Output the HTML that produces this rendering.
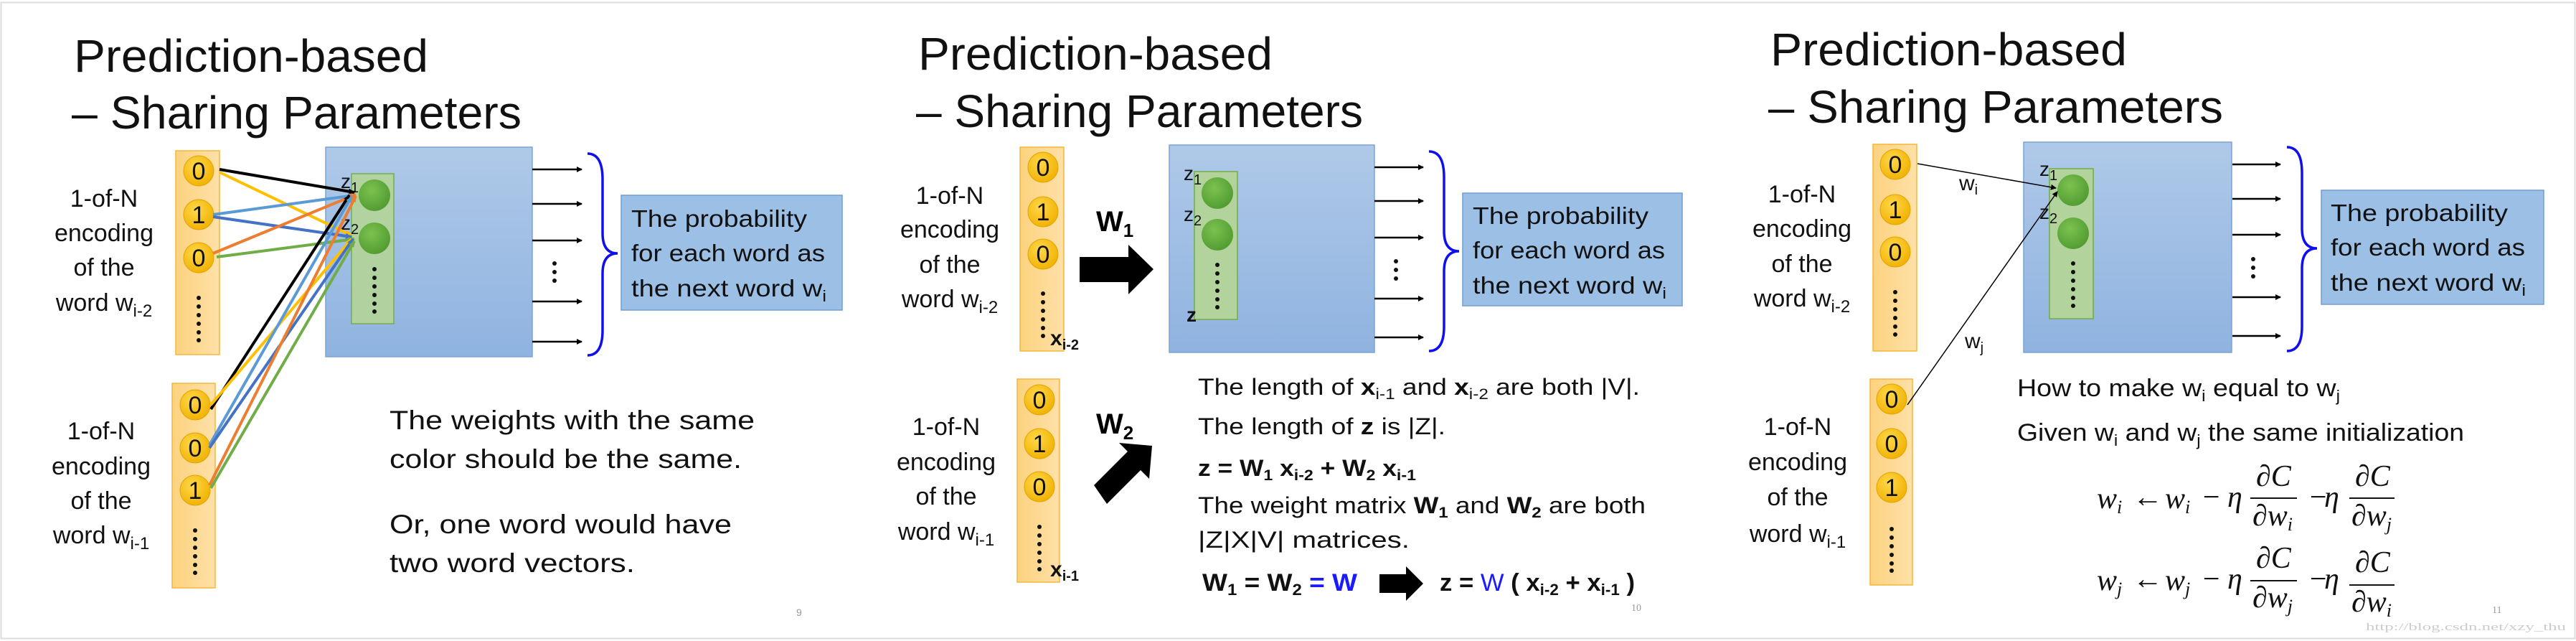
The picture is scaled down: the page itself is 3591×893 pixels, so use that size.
<!DOCTYPE html>
<html><head><meta charset="utf-8"><style>
html,body{margin:0;padding:0;background:#fff;}
svg{display:block;font-family:"Liberation Sans",sans-serif;}
.t{font-size:64px;fill:#111;}
.lb{font-size:34px;fill:#111;text-anchor:middle;}
.pb{font-size:33px;fill:#111;}
.bd{font-weight:bold;}
.m{font-family:"Liberation Serif",serif;font-style:italic;font-size:42px;fill:#111;}
</style></head><body>
<svg width="3591" height="893" viewBox="0 0 3591 893" xmlns="http://www.w3.org/2000/svg">
<defs>
<linearGradient id="bg" x1="0" y1="0" x2="0" y2="1"><stop offset="0" stop-color="#afc9e8"/><stop offset="1" stop-color="#8fb3e0"/></linearGradient>
<linearGradient id="og" x1="0" y1="0" x2="1" y2="0"><stop offset="0" stop-color="#fcd27e"/><stop offset="1" stop-color="#fee0a8"/></linearGradient>
<radialGradient id="yc" cx="0.4" cy="0.35" r="0.7"><stop offset="0" stop-color="#ffd84a"/><stop offset="1" stop-color="#f0b000"/></radialGradient>
<radialGradient id="gc" cx="0.4" cy="0.35" r="0.7"><stop offset="0" stop-color="#7cc250"/><stop offset="1" stop-color="#4f9a30"/></radialGradient>
<marker id="ah" markerWidth="8" markerHeight="8" refX="7" refY="4" orient="auto" markerUnits="userSpaceOnUse"><path d="M0,0 L8,4 L0,8z" fill="#000"/></marker>
<marker id="ac" markerWidth="10" markerHeight="10" refX="8" refY="5" orient="auto" markerUnits="userSpaceOnUse"><path d="M0,1 L9,5 L0,9z" fill="context-stroke"/></marker>
</defs>
<rect x="1.5" y="3.5" width="3588" height="886" fill="none" stroke="#ddd" stroke-width="2"/>

<!-- ============ PANEL 1 ============ -->
<text class="t" x="103" y="100" textLength="494" lengthAdjust="spacingAndGlyphs">Prediction-based</text>
<text class="t" x="100" y="179" textLength="627" lengthAdjust="spacingAndGlyphs">– Sharing Parameters</text>

<rect x="245" y="210" width="61" height="284" fill="url(#og)" stroke="#f3b73b" stroke-width="1.5"/>
<rect x="240" y="534" width="60" height="285" fill="url(#og)" stroke="#f3b73b" stroke-width="1.5"/>
<g fill="url(#yc)" stroke="#e0a500" stroke-width="1">
<circle cx="277" cy="238" r="21"/><circle cx="277" cy="299" r="21"/><circle cx="277" cy="359" r="21"/>
<circle cx="272" cy="564" r="21"/><circle cx="272" cy="624" r="21"/><circle cx="272" cy="683" r="21"/>
</g>
<g font-size="34" text-anchor="middle" fill="#111">
<text x="277" y="250">0</text><text x="277" y="311">1</text><text x="277" y="371">0</text>
<text x="272" y="576">0</text><text x="272" y="636">0</text><text x="272" y="695">1</text>
</g>
<g fill="#111"><circle cx="277" cy="415" r="3"/><circle cx="277" cy="427" r="3"/><circle cx="277" cy="439" r="3"/><circle cx="277" cy="451" r="3"/><circle cx="277" cy="463" r="3"/><circle cx="277" cy="474" r="3"/>
<circle cx="272" cy="739" r="3"/><circle cx="272" cy="751" r="3"/><circle cx="272" cy="763" r="3"/><circle cx="272" cy="775" r="3"/><circle cx="272" cy="787" r="3"/><circle cx="272" cy="798" r="3"/></g>

<text class="lb" x="145" y="288">1-of-N</text><text class="lb" x="145" y="336">encoding</text><text class="lb" x="145" y="384">of the</text><text class="lb" x="145" y="433">word w<tspan font-size="24" dy="8">i-2</tspan></text>
<text class="lb" x="141" y="612">1-of-N</text><text class="lb" x="141" y="661">encoding</text><text class="lb" x="141" y="709">of the</text><text class="lb" x="141" y="757">word w<tspan font-size="24" dy="8">i-1</tspan></text>

<rect x="454" y="205" width="288" height="292" fill="url(#bg)" stroke="#7aa3d6" stroke-width="1.5"/>
<rect x="490" y="242" width="59" height="209" fill="#b3d39c" stroke="#70ad47" stroke-width="1.5" opacity="0.95"/>
<circle cx="522" cy="272" r="22" fill="url(#gc)"/><circle cx="522" cy="332" r="22" fill="url(#gc)"/>
<g fill="#111"><circle cx="522" cy="375" r="3"/><circle cx="522" cy="387" r="3"/><circle cx="522" cy="399" r="3"/><circle cx="522" cy="411" r="3"/><circle cx="522" cy="423" r="3"/><circle cx="522" cy="434" r="3"/></g>
<text x="475" y="262" font-size="28" fill="#111">z<tspan font-size="20" dy="6">1</tspan></text>
<text x="475" y="320" font-size="28" fill="#111">z<tspan font-size="20" dy="6">2</tspan></text>

<g stroke-width="4" fill="none" marker-end="url(#ac)">
<line x1="306" y1="236" x2="494" y2="268" stroke="#000"/>
<line x1="306" y1="240" x2="490" y2="328" stroke="#ffc000"/>
<line x1="297" y1="299" x2="494" y2="272" stroke="#5b9bd5"/>
<line x1="297" y1="302" x2="490" y2="330" stroke="#4472c4"/>
<line x1="297" y1="353" x2="496" y2="271" stroke="#ed7d31"/>
<line x1="302" y1="358" x2="494" y2="333" stroke="#70ad47"/>
<line x1="294" y1="570" x2="487" y2="272" stroke="#000"/>
<line x1="294" y1="564" x2="490" y2="333" stroke="#ffc000"/>
<line x1="292" y1="620" x2="490" y2="274" stroke="#5b9bd5"/>
<line x1="292" y1="624" x2="492" y2="333" stroke="#4472c4"/>
<line x1="292" y1="676" x2="496" y2="273" stroke="#ed7d31"/>
<line x1="294" y1="680" x2="494" y2="336" stroke="#70ad47"/>
</g>

<g stroke="#000" stroke-width="2.5" marker-end="url(#ah)">
<line x1="742" y1="236" x2="811" y2="236"/><line x1="742" y1="284" x2="811" y2="284"/><line x1="742" y1="335" x2="811" y2="335"/><line x1="742" y1="420" x2="811" y2="420"/><line x1="742" y1="476" x2="811" y2="476"/>
</g>
<g fill="#111"><circle cx="773" cy="367" r="3"/><circle cx="773" cy="379" r="3"/><circle cx="773" cy="391" r="3"/></g>
<path d="M819,214 Q840,214 840,250 L840,325 Q840,353 861,353 Q840,353 840,381 L840,460 Q840,495 819,495" fill="none" stroke="#1010ee" stroke-width="3.5"/>
<rect x="866" y="272" width="308" height="160" fill="#9cbfe6" stroke="#6f9dd3" stroke-width="1.5"/>
<text class="pb" x="880" y="316" textLength="245" lengthAdjust="spacingAndGlyphs">The probability</text>
<text class="pb" x="880" y="364" textLength="270" lengthAdjust="spacingAndGlyphs">for each word as</text>
<text class="pb" x="880" y="413" textLength="272" lengthAdjust="spacingAndGlyphs">the next word w<tspan font-size="22" dy="7">i</tspan></text>

<g font-size="37" fill="#111">
<text x="543" y="598" textLength="509" lengthAdjust="spacingAndGlyphs">The weights with the same</text>
<text x="543" y="652" textLength="491" lengthAdjust="spacingAndGlyphs">color should be the same.</text>
<text x="543" y="743" textLength="477" lengthAdjust="spacingAndGlyphs">Or, one word would have</text>
<text x="543" y="797" textLength="342" lengthAdjust="spacingAndGlyphs">two word vectors.</text>
</g>
<text x="1110" y="858" font-size="14" fill="#999">9</text>

<!-- ============ PANEL 2 ============ -->
<text class="t" x="1280" y="97" textLength="494" lengthAdjust="spacingAndGlyphs">Prediction-based</text>
<text class="t" x="1277" y="177" textLength="623" lengthAdjust="spacingAndGlyphs">– Sharing Parameters</text>

<rect x="1422" y="205" width="61" height="284" fill="url(#og)" stroke="#f3b73b" stroke-width="1.5"/>
<rect x="1418" y="528" width="59" height="283" fill="url(#og)" stroke="#f3b73b" stroke-width="1.5"/>
<g fill="url(#yc)" stroke="#e0a500" stroke-width="1">
<circle cx="1454" cy="233" r="21"/><circle cx="1454" cy="295" r="21"/><circle cx="1454" cy="354" r="21"/>
<circle cx="1449" cy="557" r="21"/><circle cx="1449" cy="618" r="21"/><circle cx="1449" cy="678" r="21"/>
</g>
<g font-size="34" text-anchor="middle" fill="#111">
<text x="1454" y="245">0</text><text x="1454" y="307">1</text><text x="1454" y="366">0</text>
<text x="1449" y="569">0</text><text x="1449" y="630">1</text><text x="1449" y="690">0</text>
</g>
<g fill="#111"><circle cx="1454" cy="409" r="3"/><circle cx="1454" cy="421" r="3"/><circle cx="1454" cy="433" r="3"/><circle cx="1454" cy="445" r="3"/><circle cx="1454" cy="457" r="3"/><circle cx="1454" cy="468" r="3"/>
<circle cx="1449" cy="734" r="3"/><circle cx="1449" cy="746" r="3"/><circle cx="1449" cy="758" r="3"/><circle cx="1449" cy="770" r="3"/><circle cx="1449" cy="782" r="3"/><circle cx="1449" cy="793" r="3"/></g>
<text x="1464" y="481" font-size="30" font-weight="bold" fill="#111">x<tspan font-size="20" dy="6">i-2</tspan></text>
<text x="1464" y="803" font-size="30" font-weight="bold" fill="#111">x<tspan font-size="20" dy="6">i-1</tspan></text>

<text class="lb" x="1324" y="284">1-of-N</text><text class="lb" x="1324" y="331">encoding</text><text class="lb" x="1324" y="380">of the</text><text class="lb" x="1324" y="428">word w<tspan font-size="24" dy="8">i-2</tspan></text>
<text class="lb" x="1319" y="606">1-of-N</text><text class="lb" x="1319" y="655">encoding</text><text class="lb" x="1319" y="703">of the</text><text class="lb" x="1319" y="752">word w<tspan font-size="24" dy="8">i-1</tspan></text>

<text x="1528" y="322" font-size="40" font-weight="bold" fill="#000">W<tspan font-size="26" dy="8">1</tspan></text>
<polygon points="1505,358 1573,358 1573,341 1608,375 1573,410 1573,393 1505,393" fill="#000"/>
<text x="1528" y="604" font-size="40" font-weight="bold" fill="#000">W<tspan font-size="26" dy="8">2</tspan></text>
<polygon points="1525,676 1572,629 1560,617 1606,621 1602,667 1590,655 1543,702" fill="#000"/>

<rect x="1630" y="202" width="286" height="289" fill="url(#bg)" stroke="#7aa3d6" stroke-width="1.5"/>
<rect x="1665" y="239" width="60" height="206" fill="#b3d39c" stroke="#70ad47" stroke-width="1.5"/>
<circle cx="1697" cy="269" r="22" fill="url(#gc)"/><circle cx="1697" cy="327" r="22" fill="url(#gc)"/>
<g fill="#111"><circle cx="1697" cy="369" r="3"/><circle cx="1697" cy="381" r="3"/><circle cx="1697" cy="393" r="3"/><circle cx="1697" cy="405" r="3"/><circle cx="1697" cy="417" r="3"/><circle cx="1697" cy="428" r="3"/></g>
<text x="1650" y="251" font-size="28" fill="#111">z<tspan font-size="20" dy="6">1</tspan></text>
<text x="1650" y="308" font-size="28" fill="#111">z<tspan font-size="20" dy="6">2</tspan></text>
<text x="1654" y="448" font-size="28" font-weight="bold" fill="#111">z</text>

<g stroke="#000" stroke-width="2.5" marker-end="url(#ah)">
<line x1="1916" y1="233" x2="1984" y2="233"/><line x1="1916" y1="280" x2="1984" y2="280"/><line x1="1916" y1="331" x2="1984" y2="331"/><line x1="1916" y1="416" x2="1984" y2="416"/><line x1="1916" y1="470" x2="1984" y2="470"/>
</g>
<g fill="#111"><circle cx="1946" cy="364" r="3"/><circle cx="1946" cy="376" r="3"/><circle cx="1946" cy="388" r="3"/></g>
<path d="M1992,211 Q2013,211 2013,247 L2013,322 Q2013,350 2034,350 Q2013,350 2013,378 L2013,455 Q2013,489 1992,489" fill="none" stroke="#1010ee" stroke-width="3.5"/>
<rect x="2039" y="269" width="306" height="157" fill="#9cbfe6" stroke="#6f9dd3" stroke-width="1.5"/>
<text class="pb" x="2053" y="312" textLength="245" lengthAdjust="spacingAndGlyphs">The probability</text>
<text class="pb" x="2053" y="360" textLength="268" lengthAdjust="spacingAndGlyphs">for each word as</text>
<text class="pb" x="2053" y="409" textLength="270" lengthAdjust="spacingAndGlyphs">the next word w<tspan font-size="22" dy="7">i</tspan></text>

<g font-size="32" fill="#111">
<text x="1670" y="550" textLength="616" lengthAdjust="spacingAndGlyphs">The length of <tspan font-weight="bold">x</tspan><tspan font-size="21" dy="6">i-1</tspan><tspan dy="-6"> and </tspan><tspan font-weight="bold">x</tspan><tspan font-size="21" dy="6">i-2</tspan><tspan dy="-6"> are both |V|.</tspan></text>
<text x="1670" y="605" textLength="345" lengthAdjust="spacingAndGlyphs">The length of <tspan font-weight="bold">z</tspan> is |Z|.</text>
<text x="1670" y="663" font-weight="bold" textLength="304" lengthAdjust="spacingAndGlyphs">z = W<tspan font-size="21" dy="6">1</tspan><tspan dy="-6"> x</tspan><tspan font-size="21" dy="6">i-2</tspan><tspan dy="-6"> + W</tspan><tspan font-size="21" dy="6">2</tspan><tspan dy="-6"> x</tspan><tspan font-size="21" dy="6">i-1</tspan></text>
<text x="1670" y="715" textLength="624" lengthAdjust="spacingAndGlyphs">The weight matrix <tspan font-weight="bold">W</tspan><tspan font-weight="bold" font-size="21" dy="6">1</tspan><tspan dy="-6"> and </tspan><tspan font-weight="bold">W</tspan><tspan font-weight="bold" font-size="21" dy="6">2</tspan><tspan dy="-6"> are both</tspan></text>
<text x="1670" y="763" textLength="295" lengthAdjust="spacingAndGlyphs">|Z|X|V| matrices.</text>
<text x="1676" y="823" font-weight="bold" font-size="34" textLength="216" lengthAdjust="spacingAndGlyphs">W<tspan font-size="22" dy="6">1</tspan><tspan dy="-6"> = W</tspan><tspan font-size="22" dy="6">2</tspan><tspan dy="-6" fill="#1a1aff">  = W</tspan></text>
<text x="2007" y="823" font-weight="bold" font-size="34" textLength="272" lengthAdjust="spacingAndGlyphs">z = <tspan fill="#1a1aff" font-weight="normal">W</tspan> ( x<tspan font-size="22" dy="6">i-2</tspan><tspan dy="-6"> + x</tspan><tspan font-size="22" dy="6">i-1</tspan><tspan dy="-6"> )</tspan></text>
</g>
<polygon points="1923,800 1960,800 1960,789 1984,813 1960,837 1960,826 1923,826" fill="#000"/>
<text x="2274" y="851" font-size="14" fill="#999" font-family="Liberation Serif,serif">10</text>

<!-- ============ PANEL 3 ============ -->
<text class="t" x="2468" y="91" textLength="497" lengthAdjust="spacingAndGlyphs">Prediction-based</text>
<text class="t" x="2465" y="171" textLength="634" lengthAdjust="spacingAndGlyphs">– Sharing Parameters</text>

<rect x="2611" y="201" width="61" height="288" fill="url(#og)" stroke="#f3b73b" stroke-width="1.5"/>
<rect x="2607" y="528" width="59" height="287" fill="url(#og)" stroke="#f3b73b" stroke-width="1.5"/>
<g fill="url(#yc)" stroke="#e0a500" stroke-width="1">
<circle cx="2642" cy="229" r="21"/><circle cx="2642" cy="292" r="21"/><circle cx="2642" cy="351" r="21"/>
<circle cx="2637" cy="556" r="21"/><circle cx="2637" cy="618" r="21"/><circle cx="2637" cy="679" r="21"/>
</g>
<g font-size="34" text-anchor="middle" fill="#111">
<text x="2642" y="241">0</text><text x="2642" y="304">1</text><text x="2642" y="363">0</text>
<text x="2637" y="568">0</text><text x="2637" y="630">0</text><text x="2637" y="691">1</text>
</g>
<g fill="#111"><circle cx="2642" cy="407" r="3"/><circle cx="2642" cy="419" r="3"/><circle cx="2642" cy="431" r="3"/><circle cx="2642" cy="443" r="3"/><circle cx="2642" cy="455" r="3"/><circle cx="2642" cy="466" r="3"/>
<circle cx="2637" cy="737" r="3"/><circle cx="2637" cy="749" r="3"/><circle cx="2637" cy="761" r="3"/><circle cx="2637" cy="773" r="3"/><circle cx="2637" cy="785" r="3"/><circle cx="2637" cy="795" r="3"/></g>

<text class="lb" x="2512" y="282">1-of-N</text><text class="lb" x="2512" y="330">encoding</text><text class="lb" x="2512" y="379">of the</text><text class="lb" x="2512" y="427">word w<tspan font-size="24" dy="8">i-2</tspan></text>
<text class="lb" x="2506" y="606">1-of-N</text><text class="lb" x="2506" y="655">encoding</text><text class="lb" x="2506" y="704">of the</text><text class="lb" x="2506" y="755">word w<tspan font-size="24" dy="8">i-1</tspan></text>

<rect x="2821" y="198" width="290" height="293" fill="url(#bg)" stroke="#7aa3d6" stroke-width="1.5"/>
<rect x="2857" y="235" width="61" height="209" fill="#b3d39c" stroke="#70ad47" stroke-width="1.5"/>
<circle cx="2890" cy="265" r="22" fill="url(#gc)"/><circle cx="2890" cy="325" r="22" fill="url(#gc)"/>
<g fill="#111"><circle cx="2890" cy="367" r="3"/><circle cx="2890" cy="379" r="3"/><circle cx="2890" cy="391" r="3"/><circle cx="2890" cy="403" r="3"/><circle cx="2890" cy="415" r="3"/><circle cx="2890" cy="426" r="3"/></g>
<text x="2843" y="245" font-size="28" fill="#111">z<tspan font-size="20" dy="6">1</tspan></text>
<text x="2843" y="305" font-size="28" fill="#111">z<tspan font-size="20" dy="6">2</tspan></text>

<g stroke="#000" stroke-width="1.5" marker-end="url(#ah)">
<line x1="2673" y1="228" x2="2866" y2="262"/>
<line x1="2659" y1="564" x2="2868" y2="267"/>
</g>
<text x="2731" y="265" font-size="30" fill="#111">w<tspan font-size="20" dy="6">i</tspan></text>
<text x="2739" y="485" font-size="30" fill="#111">w<tspan font-size="20" dy="6">j</tspan></text>

<g stroke="#000" stroke-width="2.5" marker-end="url(#ah)">
<line x1="3112" y1="229" x2="3179" y2="229"/><line x1="3112" y1="277" x2="3179" y2="277"/><line x1="3112" y1="327" x2="3179" y2="327"/><line x1="3112" y1="414" x2="3179" y2="414"/><line x1="3112" y1="468" x2="3179" y2="468"/>
</g>
<g fill="#111"><circle cx="3141" cy="361" r="3"/><circle cx="3141" cy="373" r="3"/><circle cx="3141" cy="385" r="3"/></g>
<path d="M3188,205 Q3209,205 3209,241 L3209,318 Q3209,346 3230,346 Q3209,346 3209,374 L3209,455 Q3209,489 3188,489" fill="none" stroke="#1010ee" stroke-width="3.5"/>
<rect x="3236" y="265" width="310" height="159" fill="#9cbfe6" stroke="#6f9dd3" stroke-width="1.5"/>
<text class="pb" x="3249" y="308" textLength="247" lengthAdjust="spacingAndGlyphs">The probability</text>
<text class="pb" x="3249" y="356" textLength="271" lengthAdjust="spacingAndGlyphs">for each word as</text>
<text class="pb" x="3249" y="405" textLength="272" lengthAdjust="spacingAndGlyphs">the next word w<tspan font-size="22" dy="7">i</tspan></text>

<g font-size="34" fill="#111">
<text x="2812" y="552" textLength="450" lengthAdjust="spacingAndGlyphs">How to make w<tspan font-size="22" dy="7">i</tspan><tspan dy="-7"> equal to w</tspan><tspan font-size="22" dy="7">j</tspan></text>
<text x="2812" y="614" textLength="623" lengthAdjust="spacingAndGlyphs">Given w<tspan font-size="22" dy="7">i</tspan><tspan dy="-7"> and w</tspan><tspan font-size="22" dy="7">j</tspan><tspan dy="-7"> the same initialization</tspan></text>
</g>

<g class="m">
<text class="m" x="2923" y="708">w<tspan font-size="26" dy="7">i</tspan></text>
<text class="m" x="2973" y="706" font-style="normal">←</text>
<text class="m" x="3018" y="708">w<tspan font-size="26" dy="7">i</tspan></text>
<text class="m" x="3068" y="706" font-style="normal">−</text>
<text class="m" x="3105" y="706">η</text>
<text class="m" x="3145" y="677">∂C</text>
<line x1="3137" y1="694" x2="3202" y2="694" stroke="#111" stroke-width="2"/>
<text class="m" x="3140" y="732">∂w<tspan font-size="26" dy="7">i</tspan></text>
<text class="m" x="3217" y="706" font-style="normal">−</text><text class="m" x="3240" y="706">η</text>
<text class="m" x="3283" y="677">∂C</text>
<line x1="3275" y1="694" x2="3338" y2="694" stroke="#111" stroke-width="2"/>
<text class="m" x="3278" y="732">∂w<tspan font-size="26" dy="7">j</tspan></text>

<text class="m" x="2923" y="822">w<tspan font-size="26" dy="7">j</tspan></text>
<text class="m" x="2973" y="820" font-style="normal">←</text>
<text class="m" x="3018" y="822">w<tspan font-size="26" dy="7">j</tspan></text>
<text class="m" x="3068" y="820" font-style="normal">−</text>
<text class="m" x="3105" y="820">η</text>
<text class="m" x="3145" y="791">∂C</text>
<line x1="3137" y1="809" x2="3202" y2="809" stroke="#111" stroke-width="2"/>
<text class="m" x="3140" y="846">∂w<tspan font-size="26" dy="7">j</tspan></text>
<text class="m" x="3217" y="820" font-style="normal">−</text><text class="m" x="3240" y="820">η</text>
<text class="m" x="3283" y="797">∂C</text>
<line x1="3275" y1="815" x2="3338" y2="815" stroke="#111" stroke-width="2"/>
<text class="m" x="3278" y="852">∂w<tspan font-size="26" dy="7">i</tspan></text>
</g>
<text x="3474" y="854" font-size="14" fill="#999" font-family="Liberation Serif,serif">11</text>
<text x="3298" y="878" font-size="15" fill="#ccc" font-family="Liberation Serif,serif" textLength="279" lengthAdjust="spacingAndGlyphs">http://blog.csdn.net/xzy_thu</text>
</svg>
</body></html>
